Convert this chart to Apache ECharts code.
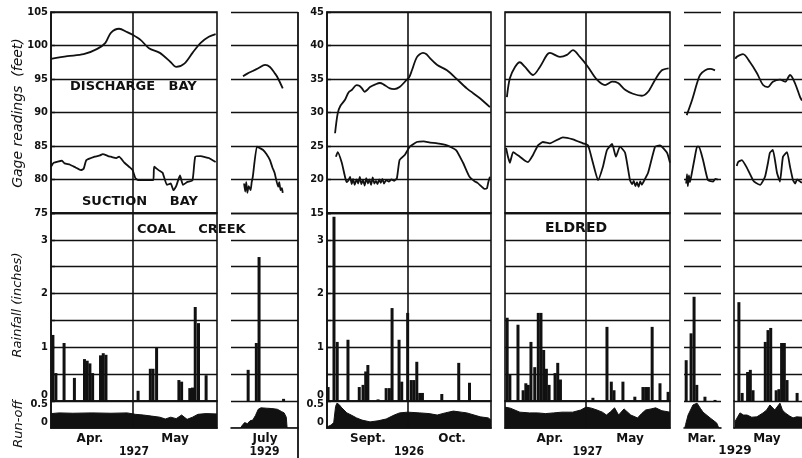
<!DOCTYPE html>
<html>
<head>
<meta charset="utf-8">
<script src="https://cdn.jsdelivr.net/npm/echarts@6/dist/echarts.min.js"></script>
<style>
html, body { margin: 0; padding: 0; background: #fff; }
#gage-chart { width: 802px; height: 458px; }
</style>
</head>
<body>
<div id="gage-chart"></div>
<script>
// x values are days counted from the 1st of the first month in each panel

// Coal Creek, Apr.-May 1927
var coalDischarge1927 = [[0,98.0],[6,98.4],[12,98.7],[17,99.5],[20,100.4],[22,101.9],[25,102.5],[28,102.0],[30,101.6],[33,100.8],[36,99.6],[40,98.9],[44,97.5],[46,96.8],[49,97.3],[52,98.9],[55,100.4],[58,101.3],[60.5,101.7]];
var coalSuction1927 = [[0,81.9],[1,82.5],[4,82.8],[5,82.4],[7,82.2],[9,81.8],[11,81.4],[12,81.6],[13,82.9],[16,83.4],[18,83.6],[19,83.8],[21,83.5],[22,83.4],[24,83.2],[25,83.4],[27,82.5],[29,81.8],[30,81.4],[31,80.2],[32,79.9],[34,79.9],[36,79.9],[37.6,79.9],[37.9,81.9],[39.5,81.4],[41,81.0],[42.6,79.2],[44,79.4],[45,78.4],[46,79.0],[47.4,80.6],[48.5,79.2],[50,79.6],[52,79.9],[53,83.4],[55,83.5],[57,83.3],[58,83.2],[60.5,82.6]];
var coalRain1927 = [[0.7,1.23],[1.8,0.52],[4.8,1.08],[8.6,0.43],[12.3,0.78],[13.3,0.75],[14.3,0.7],[15.3,0.52],[18.2,0.85],[19.2,0.89],[20.2,0.86],[32,0.19],[36.5,0.6],[37.5,0.6],[38.8,0.99],[47,0.39],[48,0.36],[51,0.24],[52,0.25],[53,1.75],[54.2,1.45],[57,0.48]];
var coalRunoff1927 = [[0,0.4],[3,0.42],[8,0.41],[15,0.42],[22,0.41],[28,0.42],[31,0.38],[34,0.36],[37,0.33],[40,0.3],[42,0.25],[44,0.3],[46,0.26],[48,0.36],[50,0.24],[52,0.3],[54,0.38],[57,0.4],[61,0.39]];

// Coal Creek, July 1929
var coalDischarge1929 = [[4.4,95.4],[6,95.8],[8,96.2],[10,96.6],[12.5,97.1],[14.3,96.8],[16,95.9],[17,95.3],[19,93.6]];
var coalSuction1929 = [[4.8,79.4],[5.2,78.2],[5.6,79.6],[6,78.0],[6.5,79.0],[7.2,78.4],[7.6,79.6],[8,80.4],[9.5,84.9],[10.5,84.7],[11.8,84.4],[13,83.8],[14.3,82.9],[15.2,81.8],[16,81.0],[17.3,78.9],[17.7,79.6],[18.2,78.4],[18.7,78.7],[19,78.0]];
var coalRain1929 = [[6.3,0.58],[9.3,1.08],[10.3,2.68],[19.3,0.04]];
var coalRunoff1929 = [[0,0],[3.5,0],[4,0.06],[5,0.15],[6,0.12],[7,0.2],[8,0.22],[9,0.35],[10,0.52],[11,0.56],[13,0.55],[15,0.54],[17,0.52],[18.5,0.46],[19.5,0.42],[20.3,0.3],[20.6,0],[24.6,0]];

// Eldred, Sept.-Oct. 1926
var eldDischarge1926 = [[3,26.9],[4,29.9],[5,31.0],[6.7,31.9],[8,33.0],[9.3,33.4],[11,34.1],[12,34.0],[13,33.6],[14,33.1],[15,33.4],[16,33.8],[18,34.2],[19.7,34.4],[21,34.2],[23.4,33.6],[25,33.5],[27,33.8],[29.7,34.9],[30.5,35.2],[31.6,36.3],[33.5,38.3],[35.7,38.9],[37,38.7],[38.3,38.1],[41,37.1],[44.6,36.3],[48,35.1],[52,33.6],[57,32.1],[60.6,30.8]];
var eldSuction1926 = [[3.3,23.4],[4,24.1],[5.5,22.5],[6.7,20.4],[7.3,19.6],[8,19.9],[8.6,20.4],[9.2,19.3],[9.7,20.1],[10.3,19.2],[11,20.0],[11.6,19.4],[12.2,20.4],[12.8,19.3],[13.4,19.9],[14,19.1],[14.6,20.2],[15.2,19.4],[15.8,20.0],[16.4,19.2],[17,20.3],[17.6,19.4],[18.2,19.8],[18.8,19.3],[19.4,20.0],[20,19.5],[20.6,20.1],[21.2,19.4],[22,19.9],[23,19.7],[24,20.0],[25,19.8],[26,20.2],[27,22.9],[29,23.7],[30.8,24.9],[33.4,25.6],[36,25.7],[38.3,25.5],[41,25.4],[44.6,25.1],[48,24.4],[50.6,22.5],[53,20.4],[55,19.7],[56,19.5],[57.6,18.9],[58.5,18.6],[59.5,18.7],[60,19.6],[60.6,20.4]];
var eldRain1926 = [[0.4,0.26],[2.6,3.43],[3.8,1.1],[7.8,1.14],[12,0.26],[13.4,0.3],[14.4,0.55],[15.2,0.67],[19,0.03],[22,0.24],[23.2,0.24],[24.2,1.73],[26.8,1.14],[27.8,0.36],[30,1.64],[31.3,0.39],[32.3,0.39],[33.4,0.73],[34.5,0.15],[35.5,0.15],[42.7,0.13],[49,0.71],[53,0.34]];
var eldRunoff1926 = [[0,0.03],[1.5,0.08],[2.5,0.15],[3.2,0.6],[3.7,0.69],[4.5,0.65],[5.5,0.56],[7.4,0.42],[9,0.36],[11,0.28],[13,0.22],[16,0.17],[19,0.2],[22,0.25],[25,0.36],[27,0.42],[30,0.44],[34.5,0.42],[38,0.4],[41,0.36],[44,0.42],[47,0.47],[50,0.44],[52,0.42],[57,0.31],[60,0.28],[61,0.22]];

// Eldred, Apr.-May 1927
var eldDischarge1927 = [[0.7,32.3],[1.8,35.1],[3.7,36.8],[5.5,37.5],[7.4,36.8],[10.4,35.6],[12.9,36.8],[15.5,38.6],[16.6,38.9],[20.3,38.3],[22.9,38.6],[25.1,39.3],[27.7,38.3],[30.7,36.8],[34,34.9],[37,34.1],[39.6,34.6],[41.8,34.4],[44.4,33.4],[47.3,32.8],[50.6,32.5],[52.9,33.1],[55.5,34.9],[58,36.3],[60.5,36.6]];
var eldSuction1927 = [[0.4,24.7],[1.1,23.4],[1.8,22.5],[3,24.1],[5.5,23.4],[7.4,22.8],[8.5,22.6],[10.4,23.7],[12.2,25.1],[14,25.6],[16.6,25.4],[21.4,26.3],[25.1,26.0],[28.8,25.4],[30.7,25.1],[32.5,22.5],[34.4,19.9],[36.2,21.9],[37.7,24.4],[39.6,25.3],[41,23.4],[42.5,24.9],[44.4,24.0],[46.2,19.9],[47,19.3],[47.6,19.8],[48.2,19.0],[48.8,19.6],[49.4,18.9],[50,19.7],[50.6,19.2],[51,19.5],[52.9,21.0],[55.5,24.9],[57.3,25.1],[59.9,24.0],[61,22.5]];
var eldRain1927 = [[0.8,1.55],[1.8,0.5],[4.8,1.42],[6.7,0.2],[7.7,0.33],[8.6,0.3],[9.6,1.1],[11,0.63],[12.3,1.64],[13.3,1.64],[14.3,0.95],[15.3,0.6],[16.3,0.3],[18.5,0.52],[19.5,0.71],[20.5,0.4],[32.5,0.06],[37.7,1.38],[39.3,0.36],[40.3,0.2],[43.6,0.36],[48,0.08],[51,0.26],[52,0.26],[53,0.26],[54.4,1.38],[57.3,0.33],[60.3,0.17]];
var eldRunoff1927 = [[0,0.58],[2,0.55],[5.5,0.44],[9,0.42],[12,0.42],[15,0.4],[18,0.42],[21,0.44],[25,0.44],[28,0.5],[30,0.58],[32,0.55],[34,0.5],[36,0.44],[37.5,0.36],[39,0.45],[40.5,0.56],[42,0.36],[44,0.53],[46.5,0.36],[49,0.28],[50.5,0.4],[52,0.5],[54,0.53],[55.7,0.56],[58,0.48],[61,0.44]];

// Eldred, Mar. 1929
var eldDischargeMar = [[1,29.6],[3,31.9],[4.8,34.4],[5.9,35.6],[7.8,36.3],[9.6,36.5],[11.4,36.3]];
var eldSuctionMar = [[0.8,19.4],[1.1,20.8],[1.4,19.0],[1.8,20.6],[2.2,19.6],[2.9,21.0],[4.0,23.4],[4.8,24.9],[5.5,24.9],[7,22.9],[8.8,19.9],[10.7,19.7],[11.5,20.1],[12.5,20.0]];
var eldRainMar = [[0.8,0.76],[2.6,1.26],[3.7,1.94],[4.7,0.3],[7.7,0.08],[11.4,0.02]];
var eldRunoffMar = [[0.3,0],[0.6,0.1],[1.5,0.36],[3.3,0.64],[4.8,0.69],[6,0.55],[7,0.44],[9.6,0.28],[12,0.14],[12.8,0],[13.6,0]];

// Eldred, May 1929
var eldDischargeMay = [[0.5,38.0],[1,38.3],[3.3,38.7],[5.9,37.5],[8.4,35.9],[10.7,34.1],[12.5,33.8],[14.3,34.6],[16.9,34.9],[18.8,34.6],[20.6,35.6],[22.4,34.4],[24.3,32.3],[25,31.8]];
var eldSuctionMay = [[1,22.0],[1.5,22.6],[2.9,22.9],[4.8,21.7],[7,19.9],[8,19.5],[9.6,19.2],[11.4,20.4],[12.5,22.5],[13.2,24.0],[14.3,24.4],[15.8,21.0],[16.9,19.7],[18,23.4],[19.5,24.1],[20.6,21.9],[21.7,19.9],[22.5,19.4],[23.2,20.0],[24.3,19.7],[25,19.5]];
var eldRainMay = [[1.8,1.84],[3,0.15],[5,0.54],[6,0.58],[7,0.2],[11.5,1.1],[12.5,1.32],[13.5,1.36],[15.5,0.2],[16.5,0.22],[17.5,1.08],[18.5,1.08],[19.5,0.39],[23.2,0.15]];
var eldRunoffMay = [[0.3,0.17],[2.2,0.42],[3.5,0.36],[4.8,0.36],[6.5,0.3],[8.4,0.31],[10.7,0.42],[12,0.5],[13.2,0.64],[15,0.5],[16.9,0.69],[17.8,0.5],[18.8,0.42],[20.5,0.33],[21.7,0.28],[23,0.31],[25,0.3]];

// tick labels
var gageTicksCoal = [75, 80, 85, 90, 95, 100, 105];
var gageTicksEldred = [15, 20, 25, 30, 35, 40, 45];
var rainTicks = [0, 1, 2, 3];
var runoffTicks = [0, 0.5];

// month labels and where they sit (day)
var monthsCoal1927 = ['Apr.', 'May'], monthAtCoal1927 = [14.3, 45.6];
var monthsCoal1929 = ['July'], monthAtCoal1929 = [12.5];
var monthsEld1926 = ['Sept.', 'Oct.'], monthAtEld1926 = [15.2, 46.5];
var monthsEld1927 = ['Apr.', 'May'], monthAtEld1927 = [16.6, 46.2];
var monthsEldMar = ['Mar.'], monthAtEldMar = [6.6];
var monthsEldMay = ['May'], monthAtEldMay = [12.1];

var ink = '#111';
var numFont = "'DejaVu Sans Condensed', 'DejaVu Sans', sans-serif";
var letterFont = "'DejaVu Sans', sans-serif";

var panels = [
    {left: 51, width: 166, days: 61, frame: true, ticks: gageTicksCoal, labels: true, sep: 30, year: '1927',
     disch: coalDischarge1927, suct: coalSuction1927, rain: coalRain1927, runoff: coalRunoff1927, months: monthsCoal1927, monthAt: monthAtCoal1927},
    {left: 231, width: 67, days: 24.6, frame: false, ticks: gageTicksCoal, year: '1929',
     disch: coalDischarge1929, suct: coalSuction1929, rain: coalRain1929, runoff: coalRunoff1929, months: monthsCoal1929, monthAt: monthAtCoal1929},
    {left: 327, width: 164, days: 61, frame: true, ticks: gageTicksEldred, labels: true, sep: 30, year: '1926',
     disch: eldDischarge1926, suct: eldSuction1926, rain: eldRain1926, runoff: eldRunoff1926, months: monthsEld1926, monthAt: monthAtEld1926},
    {left: 505, width: 165, days: 61, frame: true, ticks: gageTicksEldred, sep: 30, year: '1927',
     disch: eldDischarge1927, suct: eldSuction1927, rain: eldRain1927, runoff: eldRunoff1927, months: monthsEld1927, monthAt: monthAtEld1927},
    {left: 684, width: 37, days: 13.6, frame: false, ticks: gageTicksEldred, year: '',
     disch: eldDischargeMar, suct: eldSuctionMar, rain: eldRainMar, runoff: eldRunoffMar, months: monthsEldMar, monthAt: monthAtEldMar},
    {left: 734, width: 68, days: 25, frame: false, leftLine: true, ticks: gageTicksEldred, year: '',
     disch: eldDischargeMay, suct: eldSuctionMay, rain: eldRainMay, runoff: eldRunoffMay, months: monthsEldMay, monthAt: monthAtEldMay}
];

var rows = [{top: 12, height: 201}, {top: 213, height: 188}, {top: 401, height: 27}];

function sepLine(p) {
    if (p.sep == null) return undefined;
    return {
        silent: true, symbol: ['none', 'none'], label: {show: false},
        lineStyle: {color: ink, type: 'solid', width: 1.6},
        data: [{xAxis: p.sep}]
    };
}

var grids = [], xAxes = [], yAxes = [], series = [];
panels.forEach(function (p) {
    var base = grids.length;
    rows.forEach(function (r, k) {
        grids.push({
            left: p.left, top: r.top, width: p.width, height: r.height,
            containLabel: false, outerBoundsMode: 'none',
            show: p.frame, borderColor: ink, borderWidth: 1.6, backgroundColor: 'transparent'
        });
        var xa = {
            gridIndex: base + k, type: 'value', min: 0, max: p.days,
            show: k === 2,
            axisLine: {show: true, onZero: false, lineStyle: {color: ink, width: 1.6}},
            axisTick: {show: false}, splitLine: {show: false},
            axisLabel: {show: false}
        };
        if (k === 2) {
            xa.axisLabel = {
                show: true, customValues: p.monthAt, margin: 5,
                color: ink, fontFamily: letterFont, fontWeight: 'bold', fontSize: 12,
                formatter: function (v) {
                    for (var j = 0; j < p.monthAt.length; j++) {
                        if (Math.abs(p.monthAt[j] - v) < 0.01) return p.months[j];
                    }
                    return '';
                }
            };
            xa.name = p.year;
            xa.nameLocation = 'middle';
            xa.nameGap = 18;
            xa.nameTextStyle = {color: ink, fontFamily: numFont, fontWeight: 'bold', fontSize: 12};
        }
        xAxes.push(xa);

        var ya = {
            gridIndex: base + k, type: 'value',
            axisLine: {show: !!(p.labels || p.leftLine), lineStyle: {color: ink, width: 1.6}},
            axisTick: {show: !!p.labels, inside: true, length: 4, lineStyle: {color: ink, width: 1.4}},
            splitLine: {show: k !== 2, lineStyle: {color: ink, width: 1.4}},
            axisLabel: {show: !!p.labels, color: ink, fontFamily: numFont, fontWeight: 'bold', fontSize: 11, margin: 3}
        };
        if (k === 0) {
            ya.min = p.ticks[0];
            ya.max = p.ticks[p.ticks.length - 1];
            ya.interval = p.ticks[1] - p.ticks[0];
        } else if (k === 1) {
            ya.min = 0; ya.max = 3.5; ya.interval = 0.5;
            ya.axisLabel.formatter = function (v) {
                if (rainTicks.indexOf(v) < 0) return '';
                return v === 0 ? '{z|0}' : String(v);
            };
            ya.axisLabel.rich = {z: {padding: [0, 0, 12, 0], color: ink, fontFamily: numFont, fontWeight: 'bold', fontSize: 11}};
        } else {
            ya.min = 0; ya.max = 0.75;
            ya.axisTick.show = false;
            ya.axisLabel.customValues = runoffTicks;
            ya.axisLabel.verticalAlign = 'bottom';
        }
        yAxes.push(ya);
    });

    series.push({
        type: 'line', xAxisIndex: base, yAxisIndex: base, data: p.disch,
        showSymbol: false, smooth: 0.3, lineStyle: {color: ink, width: 1.8},
        markLine: sepLine(p)
    });
    series.push({
        type: 'line', xAxisIndex: base, yAxisIndex: base, data: p.suct,
        showSymbol: false, smooth: 0.15, lineStyle: {color: ink, width: 1.8}
    });
    series.push({
        type: 'bar', xAxisIndex: base + 1, yAxisIndex: base + 1, data: p.rain,
        barWidth: 3, itemStyle: {color: ink}, markLine: sepLine(p)
    });
    series.push({
        type: 'line', xAxisIndex: base + 2, yAxisIndex: base + 2, data: p.runoff,
        showSymbol: false, lineStyle: {color: ink, width: 1},
        areaStyle: {color: ink, opacity: 1, origin: 'start'},
        markLine: sepLine(p)
    });
});

function caption(text, x, y, size, align) {
    return {
        type: 'text', x: x, y: y, silent: true,
        style: {text: text, fill: ink, font: 'bold ' + size + 'px ' + letterFont, align: align || 'left', verticalAlign: 'middle'}
    };
}
function sideTitle(text, x, y, size) {
    return {
        type: 'text', x: x, y: y, rotation: Math.PI / 2, silent: true,
        style: {text: text, fill: ink, font: 'italic ' + size + 'px ' + letterFont, align: 'center', verticalAlign: 'middle'}
    };
}

var chart = echarts.init(document.getElementById('gage-chart'));
chart.setOption({
    animation: false,
    backgroundColor: '#fff',
    grid: grids,
    xAxis: xAxes,
    yAxis: yAxes,
    series: series,
    graphic: [
        caption('DISCHARGE   BAY', 70, 87, 13),
        caption('SUCTION     BAY', 82, 202, 13),
        caption('COAL     CREEK', 137, 230, 13),
        caption('ELDRED', 545, 228, 14),
        caption('1929', 735, 451, 12, 'center'),
        sideTitle('Gage readings  (feet)', 18, 113, 14),
        sideTitle('Rainfall (inches)', 18, 305, 13),
        sideTitle('Run-off', 19, 424, 13),
        {type: 'line', silent: true, shape: {x1: 298, y1: 12, x2: 298, y2: 458}, style: {stroke: ink, lineWidth: 1.8}}
    ]
});
window.addEventListener('resize', function () {
    chart.resize();
});
</script>
</body>
</html>
